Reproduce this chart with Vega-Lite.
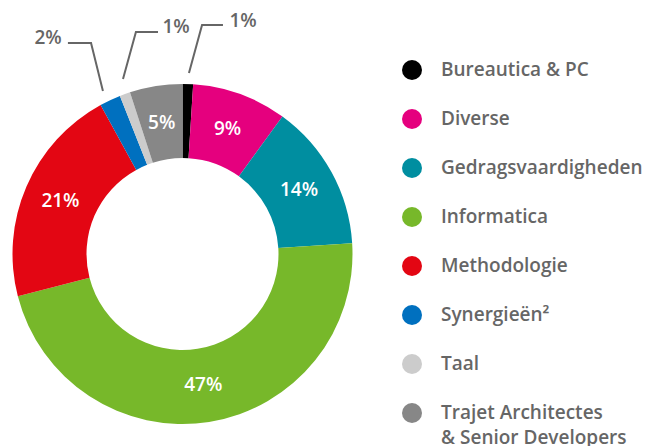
{
  "$schema": "https://vega.github.io/schema/vega-lite/v6.json",
  "width": 365,
  "height": 384,
  "autosize": {"type": "none"},
  "padding": {"left": 0, "top": 62, "right": 283, "bottom": 0},
  "background": "white",
  "config": {"view": {"stroke": null}, "font": "Open Sans", "style": {"guide-label": {"lineHeight": 25}}},
  "datasets": {
    "slices": [
      {"category": "Bureautica & PC", "value": 1, "order": 1, "label": ""},
      {"category": "Diverse", "value": 9, "order": 2, "label": "9%"},
      {"category": "Gedragsvaardigheden", "value": 14, "order": 3, "label": "14%"},
      {"category": "Informatica", "value": 47, "order": 4, "label": "47%"},
      {"category": "Methodologie", "value": 21, "order": 5, "label": "21%"},
      {"category": "Synergieën²", "value": 2, "order": 6, "label": ""},
      {"category": "Taal", "value": 1, "order": 7, "label": ""},
      {"category": "Trajet Architectes & Senior Developers", "value": 5, "order": 8, "label": "5%"}
    ],
    "leaders": [
      {"g": "a", "i": 1, "x": 0.238, "y": 1.347},
      {"g": "a", "i": 2, "x": 0.115, "y": 1.347},
      {"g": "a", "i": 3, "x": 0.038, "y": 1.065},
      {"g": "b", "i": 1, "x": -0.144, "y": 1.306},
      {"g": "b", "i": 2, "x": -0.274, "y": 1.306},
      {"g": "b", "i": 3, "x": -0.35, "y": 1.029},
      {"g": "c", "i": 1, "x": -0.674, "y": 1.241},
      {"g": "c", "i": 2, "x": -0.538, "y": 1.241},
      {"g": "c", "i": 3, "x": -0.468, "y": 0.959}
    ],
    "outside": [
      {"text": "1%", "x": 0.356, "y": 1.37},
      {"text": "1%", "x": -0.038, "y": 1.335},
      {"text": "2%", "x": -0.791, "y": 1.27}
    ]
  },
  "layer": [
    {
      "data": {"name": "slices"},
      "mark": {"type": "arc", "outerRadius": 170, "innerRadius": 96},
      "encoding": {
        "theta": {"field": "value", "type": "quantitative", "stack": true},
        "order": {"field": "order", "type": "quantitative"},
        "color": {
          "field": "category",
          "type": "nominal",
          "sort": null,
          "scale": {
            "domain": ["Bureautica & PC", "Diverse", "Gedragsvaardigheden", "Informatica", "Methodologie", "Synergieën²", "Taal", "Trajet Architectes & Senior Developers"],
            "range": ["#000000", "#e5007e", "#008ea0", "#77b82a", "#e30613", "#0070bf", "#cccccc", "#878787"]
          },
          "legend": {
            "title": null,
            "orient": "none",
            "legendX": 402,
            "legendY": -2,
            "padding": 0,
            "symbolType": "circle",
            "symbolSize": 400,
            "symbolStrokeWidth": 0,
            "labelFont": "Open Sans",
            "labelFontWeight": 600,
            "labelFontSize": 19,
            "labelColor": "#666666",
            "labelOffset": 19,
            "labelLimit": 300,
            "rowPadding": 29,
            "labelExpr": "datum.label == 'Trajet Architectes & Senior Developers' ? ['Trajet Architectes', '& Senior Developers'] : datum.label",
            "encoding": {
              "labels": {
                "enter": {
                  "lineHeight": {"value": 25}
                },
                "update": {
                  "lineHeight": {"value": 25},
                  "dy": {"signal": "datum.label == 'Trajet Architectes & Senior Developers' ? 12.5 : 0"}
                }
              }
            }
          }
        }
      }
    },
    {
      "data": {"name": "slices"},
      "mark": {"type": "text", "radius": 133, "color": "white", "font": "Open Sans", "fontWeight": 600, "fontSize": 19, "baseline": "middle", "align": "center"},
      "encoding": {
        "theta": {"field": "value", "type": "quantitative", "stack": true},
        "order": {"field": "order", "type": "quantitative"},
        "detail": {"field": "category", "type": "nominal"},
        "text": {"field": "label", "type": "nominal"}
      }
    },
    {
      "data": {"name": "leaders"},
      "mark": {"type": "line", "color": "#666666", "strokeWidth": 2, "strokeCap": "butt"},
      "encoding": {
        "x": {"field": "x", "type": "quantitative", "scale": {"domain": [-1.0735, 1.0735], "nice": false, "zero": false}, "axis": null},
        "y": {"field": "y", "type": "quantitative", "scale": {"domain": [-1.1294, 1.1294], "nice": false, "zero": false}, "axis": null},
        "detail": {"field": "g", "type": "nominal"},
        "order": {"field": "i", "type": "quantitative"}
      }
    },
    {
      "data": {"name": "outside"},
      "mark": {"type": "text", "color": "#666666", "font": "Open Sans", "fontWeight": 600, "fontSize": 19, "baseline": "middle", "align": "center"},
      "encoding": {
        "x": {"field": "x", "type": "quantitative"},
        "y": {"field": "y", "type": "quantitative"},
        "text": {"field": "text", "type": "nominal"}
      }
    }
  ]
}
